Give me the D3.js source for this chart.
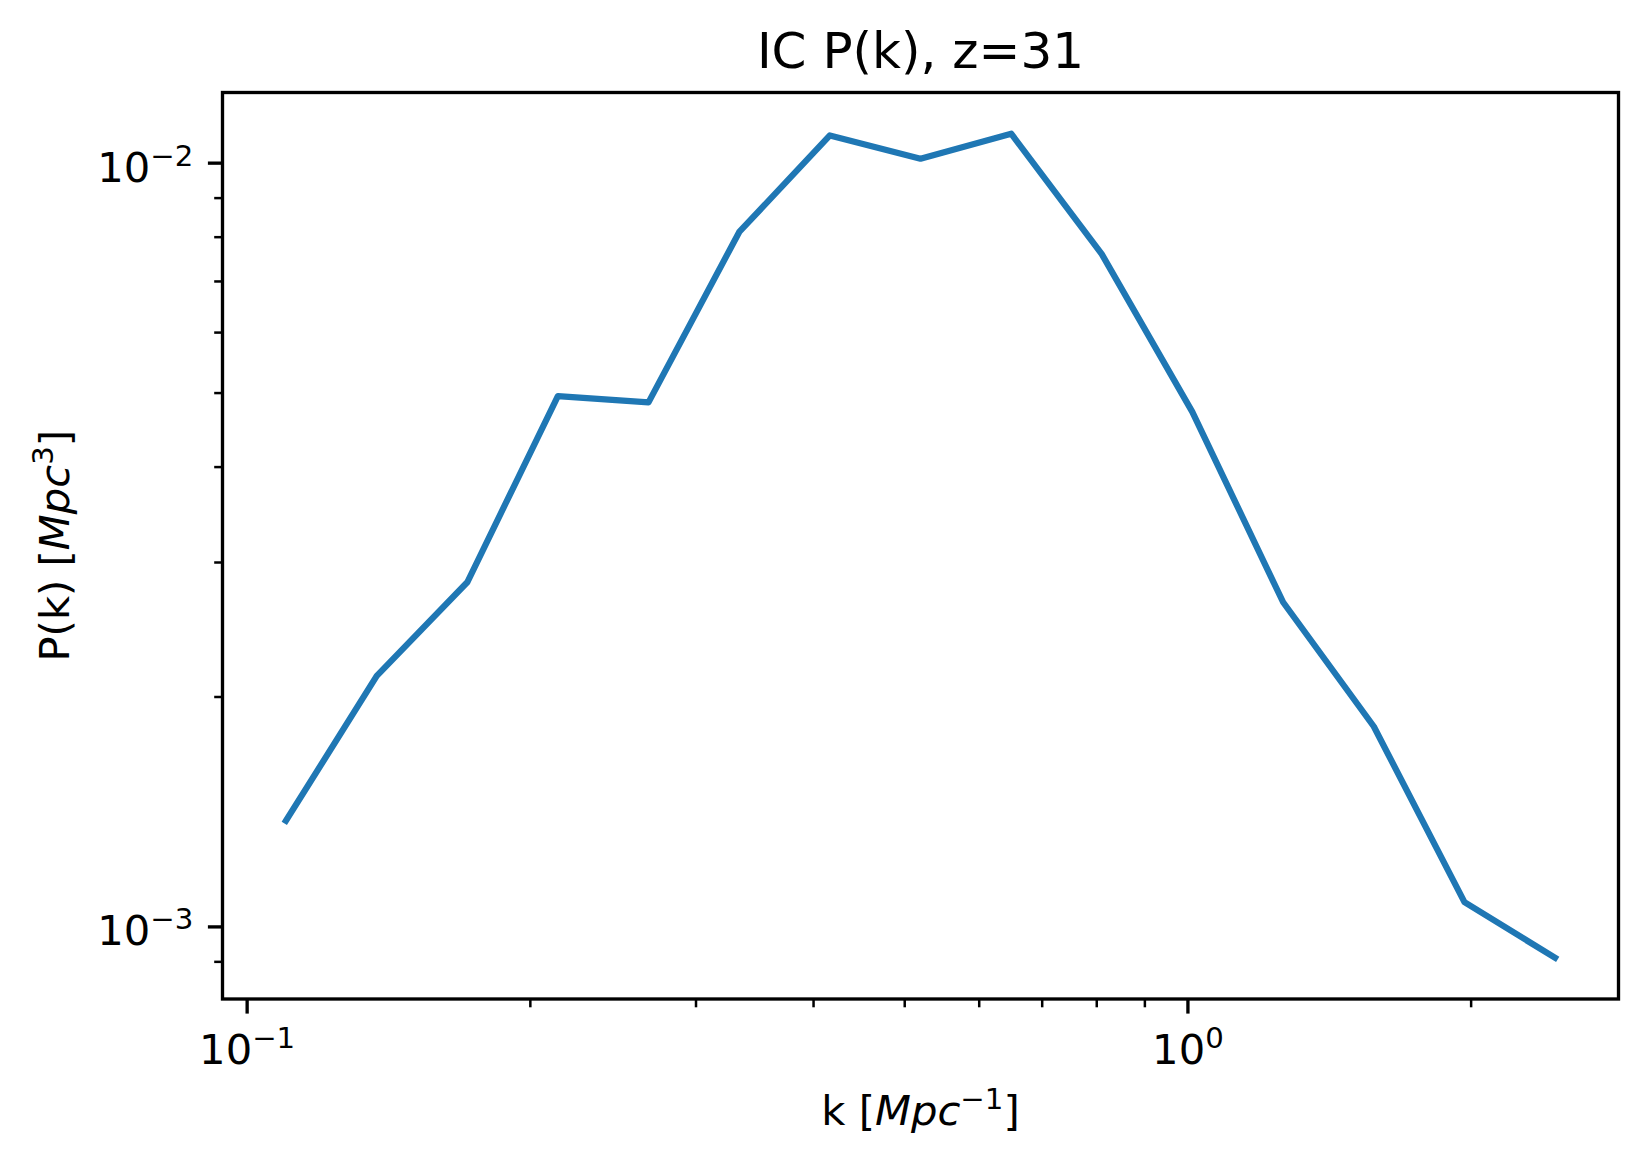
<!DOCTYPE html>
<html>
<head>
<meta charset="utf-8">
<script src="https://cdn.jsdelivr.net/npm/d3@7"></script>
<style>
  body { margin: 0; background: #fff; }
  svg { display: block; font-family: 'DejaVu Sans', sans-serif; }
</style>
</head>
<body>
<svg id="chart" width="1651" height="1168"></svg>
<script>
// values
const kValues = [0.1101, 0.1375, 0.1716, 0.2142, 0.2674, 0.3339, 0.4168, 0.5203,
                 0.6496, 0.8109, 1.012, 1.264, 1.578, 1.970, 2.459];
const pkValues = [1.375e-3, 2.128e-3, 2.822e-3, 4.947e-3, 4.854e-3, 8.114e-3, 1.0856e-2, 1.0121e-2,
                  1.0912e-2, 7.59e-3, 4.717e-3, 2.657e-3, 1.827e-3, 1.076e-3, 9.097e-4];

const xMajorTicks = [0.1, 1];
const xMajorExp = ['\u22121', '0'];
const xMinorTicks = [0.2, 0.3, 0.4, 0.5, 0.6, 0.7, 0.8, 0.9, 2];

const yMajorTicks = [1e-3, 1e-2];
const yMajorExp = ['\u22123', '\u22122'];
const yMinorTicks = [9e-4, 2e-3, 3e-3, 4e-3, 5e-3, 6e-3, 7e-3, 8e-3, 9e-3];

const titleText = 'IC P(k), z=31';

class LogLineChart {

    constructor(_config) {
        this.config = {
            parentElement: _config.parentElement,
            margin: { top: 92.5, left: 222.5 },
            width: 1396,
            height: 906.5
        };
        this.initVis();
    }

    initVis() {
        let vis = this;
        const m = vis.config.margin;
        vis.width = vis.config.width;
        vis.height = vis.config.height;

        vis.svg = d3.select(vis.config.parentElement);
        vis.chart = vis.svg.append('g')
            .attr('transform', `translate(${m.left},${m.top})`);

        // matplotlib style 5% margins in log space
        const pad = ext => {
            const lo = Math.log10(ext[0]), hi = Math.log10(ext[1]);
            const d = (hi - lo) * 0.05;
            return [Math.pow(10, lo - d), Math.pow(10, hi + d)];
        };

        vis.xScale = d3.scaleLog()
            .domain(pad(d3.extent(kValues)))
            .range([0, vis.width]);

        vis.yScale = d3.scaleLog()
            .domain(pad(d3.extent(pkValues)))
            .range([vis.height, 0]);

        vis.renderVis();
    }

    renderVis() {
        let vis = this;
        const fs = 41.7, sup = 29.2, raise = 16;

        // line
        const line = d3.line()
            .x((d, i) => vis.xScale(kValues[i]))
            .y(d => vis.yScale(d));

        vis.chart.append('path')
            .datum(pkValues)
            .attr('fill', 'none')
            .attr('stroke', '#1f77b4')
            .attr('stroke-width', 6.25)
            .attr('stroke-linejoin', 'round')
            .attr('stroke-linecap', 'square')
            .attr('d', line);

        // minor ticks
        vis.chart.append('g')
            .attr('transform', `translate(0,${vis.height})`)
            .call(d3.axisBottom(vis.xScale).tickValues(xMinorTicks).tickSize(8.3).tickFormat(''))
            .call(g => g.select('.domain').remove())
            .call(g => g.selectAll('.tick line').attr('stroke', '#000').attr('stroke-width', 2.5));

        vis.chart.append('g')
            .call(d3.axisLeft(vis.yScale).tickValues(yMinorTicks).tickSize(8.3).tickFormat(''))
            .call(g => g.select('.domain').remove())
            .call(g => g.selectAll('.tick line').attr('stroke', '#000').attr('stroke-width', 2.5));

        // major ticks with 10^n labels
        vis.xAxisGroup = vis.chart.append('g')
            .attr('transform', `translate(0,${vis.height})`)
            .call(d3.axisBottom(vis.xScale).tickValues(xMajorTicks).tickSize(14.6).tickPadding(14.6).tickFormat(() => '10'))
            .call(g => g.select('.domain').remove());

        vis.xAxisGroup.selectAll('.tick line').attr('stroke', '#000').attr('stroke-width', 3.33);
        vis.xAxisGroup.selectAll('.tick text')
            .attr('fill', '#000')
            .attr('font-family', 'DejaVu Sans')
            .attr('font-size', fs)
            .attr('y', 65)
            .attr('dy', 0)
            .each(function(d, i) {
                d3.select(this).append('tspan')
                    .attr('font-size', sup)
                    .attr('dy', -raise)
                    .text(xMajorExp[i]);
            });

        vis.yAxisGroup = vis.chart.append('g')
            .call(d3.axisLeft(vis.yScale).tickValues(yMajorTicks).tickSize(14.6).tickPadding(14.6).tickFormat(() => '10'))
            .call(g => g.select('.domain').remove());

        vis.yAxisGroup.selectAll('.tick line').attr('stroke', '#000').attr('stroke-width', 3.33);
        vis.yAxisGroup.selectAll('.tick text')
            .attr('fill', '#000')
            .attr('font-family', 'DejaVu Sans')
            .attr('font-size', fs)
            .attr('dy', 18.5)
            .each(function(d, i) {
                d3.select(this).append('tspan')
                    .attr('font-size', sup)
                    .attr('dy', -raise)
                    .text(yMajorExp[i]);
            });

        // frame
        vis.chart.append('rect')
            .attr('width', vis.width)
            .attr('height', vis.height)
            .attr('fill', 'none')
            .attr('stroke', '#000')
            .attr('stroke-width', 3.33);

        // title
        vis.chart.append('text')
            .attr('x', vis.width / 2)
            .attr('y', -24.5)
            .attr('text-anchor', 'middle')
            .attr('font-size', 50)
            .text(titleText);

        // x axis title
        const xt = vis.chart.append('text')
            .attr('x', vis.width / 2)
            .attr('y', 1125 - vis.config.margin.top)
            .attr('text-anchor', 'middle')
            .attr('font-size', fs);
        xt.append('tspan').text('k [');
        xt.append('tspan').attr('font-style', 'italic').text('Mpc');
        xt.append('tspan').attr('font-size', sup).attr('dy', -raise).text('\u22121');
        xt.append('tspan').attr('dy', raise).text(']');

        // y axis title
        const yt = vis.svg.append('text')
            .attr('transform', `translate(68.5,${vis.config.margin.top + vis.height / 2}) rotate(-90)`)
            .attr('text-anchor', 'middle')
            .attr('font-size', fs);
        yt.append('tspan').text('P(k) [');
        yt.append('tspan').attr('font-style', 'italic').text('Mpc');
        yt.append('tspan').attr('font-size', sup).attr('dy', -raise).text('3');
        yt.append('tspan').attr('dy', raise).text(']');
    }
}

new LogLineChart({ parentElement: '#chart' });
</script>
</body>
</html>
